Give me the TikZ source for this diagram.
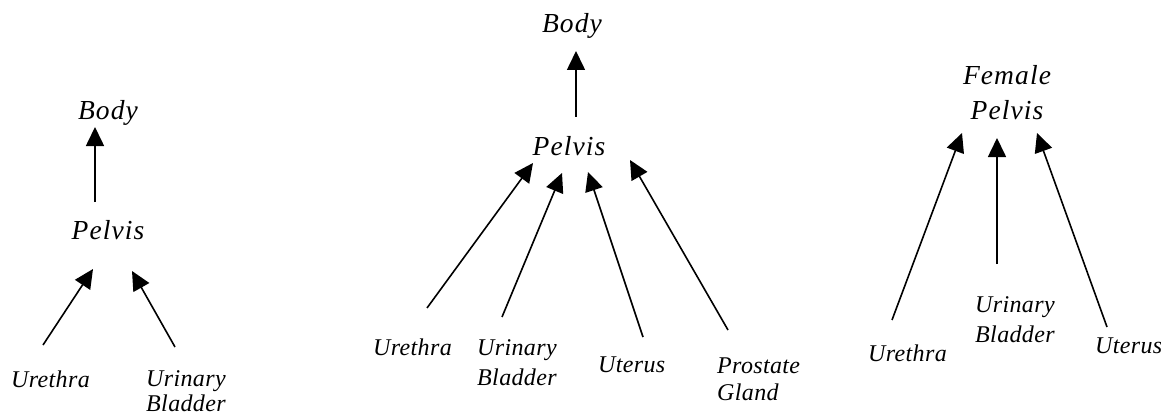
\documentclass[tikz,border=0pt]{standalone}
\usepackage{fontspec}
\setmainfont{Liberation Serif}
\newfontfamily\bigfont[LetterSpace=4]{Liberation Serif}
\newfontfamily\smallfont[LetterSpace=1.5]{Liberation Serif}
\usetikzlibrary{arrows.meta}
\newcommand{\twoleft}[1]{\begin{tabular}[t]{@{}l@{}}#1\end{tabular}}
\newcommand{\twocenter}[1]{\begin{tabular}[t]{@{}c@{}}#1\end{tabular}}
\begin{document}
\begin{tikzpicture}[x=1pt,y=-1pt,
  big/.style={font=\bigfont\itshape\fontsize{27.5}{35}\selectfont, inner sep=0pt},
  small/.style={font=\smallfont\itshape\fontsize{24}{28}\selectfont, inner sep=0pt},
  arr/.style={-{Triangle[length=19pt,width=18pt]}, line width=1.6pt}]
\useasboundingbox (0,0) rectangle (1161,417);
% ---------- left tree
\node[big,anchor=base] (lbody) at (108,120) {Body};
\node[big,anchor=base] (lpelvis) at (108,239) {Pelvis};
\node[small,anchor=base west] (luret) at (11,387) {Urethra};
\node[small,anchor=base west] (lblad) at (146,386) {\twoleft{Urinary\\[-3pt]Bladder}};
\coordinate (lpb) at (95,202); \coordinate (lbp) at (95,127);
\coordinate (lut) at (43,345); \coordinate (lup) at (93,269);
\coordinate (lbt) at (175,347); \coordinate (lbh) at (132,271);
\draw[arr] (lpb) -- (lbp);
\draw[arr] (lut) -- (lup);
\draw[arr] (lbt) -- (lbh);
% ---------- middle tree
\node[big,anchor=base] (mbody) at (572,33) {Body};
\node[big,anchor=base] (mpelvis) at (569,155) {Pelvis};
\node[small,anchor=base west] (muret) at (373,355) {Urethra};
\node[small,anchor=base west] (mblad) at (477,355) {\twoleft{Urinary\\[2pt]Bladder}};
\node[small,anchor=base west] (muter) at (598,372) {Uterus};
\node[small,anchor=base west] (mpros) at (717,373) {\twoleft{Prostate\\[-1pt]Gland}};
\coordinate (mpb) at (576,117); \coordinate (mbp) at (576,51);
\coordinate (m1t) at (427,308); \coordinate (m1h) at (533,163);
\coordinate (m2t) at (502,317); \coordinate (m2h) at (562,173);
\coordinate (m3t) at (643,337); \coordinate (m3h) at (588,172);
\coordinate (m4t) at (728,330); \coordinate (m4h) at (630,160);
\draw[arr] (mpb) -- (mbp);
\draw[arr] (m1t) -- (m1h);
\draw[arr] (m2t) -- (m2h);
\draw[arr] (m3t) -- (m3h);
\draw[arr] (m4t) -- (m4h);
% ---------- right tree
\node[big,anchor=base] (rfem) at (1007,85) {\twocenter{Female\\Pelvis}};
\node[small,anchor=base west] (ruret) at (868,361) {Urethra};
\node[small,anchor=base west] (rblad) at (975,312) {\twoleft{Urinary\\[2pt]Bladder}};
\node[small,anchor=base west] (ruter) at (1095,353) {Uterus};
\coordinate (r1t) at (892,320); \coordinate (r1h) at (962,133);
\coordinate (r2t) at (997,264); \coordinate (r2h) at (997,138);
\coordinate (r3t) at (1107,327); \coordinate (r3h) at (1037,133);
\draw[arr] (r1t) -- (r1h);
\draw[arr] (r2t) -- (r2h);
\draw[arr] (r3t) -- (r3h);
\end{tikzpicture}
\end{document}
